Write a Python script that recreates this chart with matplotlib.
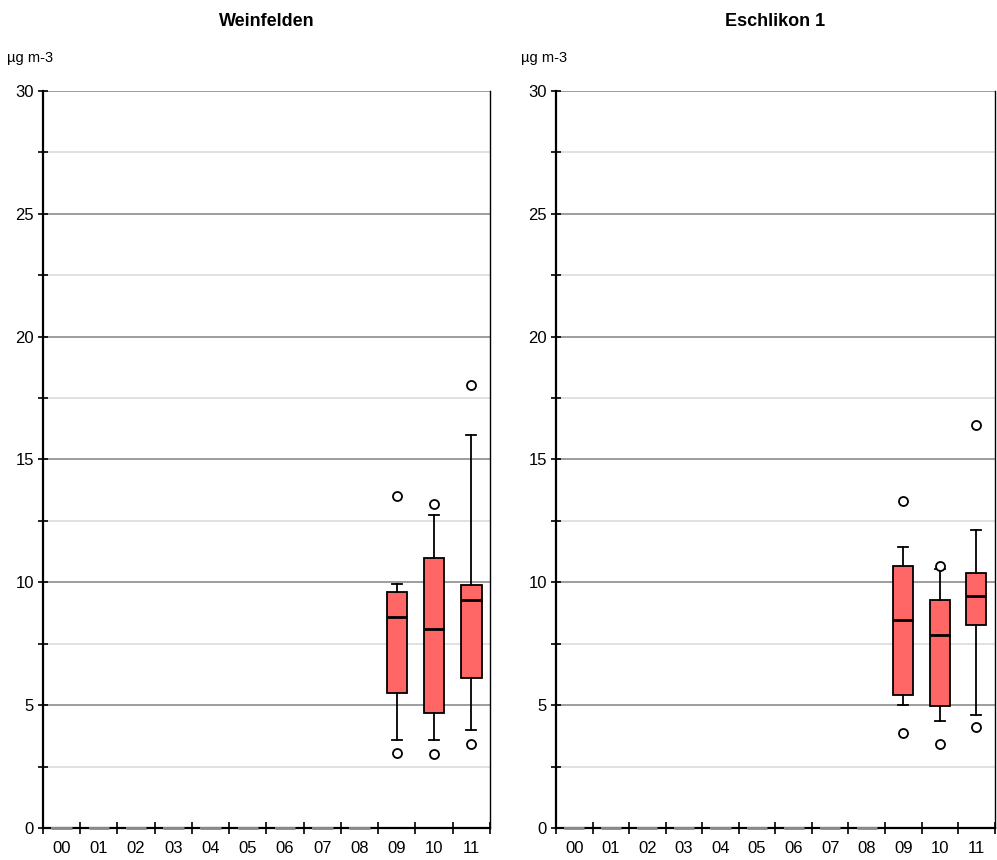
import matplotlib.pyplot as plt
from matplotlib.ticker import MultipleLocator

plt.rcParams['font.family'] = ['Liberation Sans', 'DejaVu Sans']

# Monthly categories (00 .. 11)
months = ['00', '01', '02', '03', '04', '05', '06', '07', '08', '09', '10', '11']

# Weinfelden box statistics (µg m-3)
wf_whislo = [0, 0, 0, 0, 0, 0, 0, 0, 0, 3.6, 3.6, 4.0]
wf_q1 = [0, 0, 0, 0, 0, 0, 0, 0, 0, 5.5, 4.7, 6.1]
wf_med = [0, 0, 0, 0, 0, 0, 0, 0, 0, 8.6, 8.1, 9.3]
wf_q3 = [0, 0, 0, 0, 0, 0, 0, 0, 0, 9.6, 11.0, 9.9]
wf_whishi = [0, 0, 0, 0, 0, 0, 0, 0, 0, 9.95, 12.75, 16.0]
wf_fliers = [[], [], [], [], [], [], [], [], [], [3.05, 13.5], [3.0, 13.2], [3.4, 18.05]]

# Eschlikon 1 box statistics (µg m-3)
es_whislo = [0, 0, 0, 0, 0, 0, 0, 0, 0, 5.0, 4.35, 4.6]
es_q1 = [0, 0, 0, 0, 0, 0, 0, 0, 0, 5.4, 4.95, 8.25]
es_med = [0, 0, 0, 0, 0, 0, 0, 0, 0, 8.45, 7.85, 9.45]
es_q3 = [0, 0, 0, 0, 0, 0, 0, 0, 0, 10.65, 9.3, 10.4]
es_whishi = [0, 0, 0, 0, 0, 0, 0, 0, 0, 11.45, 10.55, 12.15]
es_fliers = [[], [], [], [], [], [], [], [], [], [3.85, 13.3], [3.4, 10.65], [4.1, 16.4]]


def make_stats(lo, q1, med, q3, hi, fl):
    stats = []
    for i in range(len(months)):
        stats.append(dict(whislo=lo[i], q1=q1[i], med=med[i], q3=q3[i],
                          whishi=hi[i], fliers=fl[i], label=months[i]))
    return stats


def draw_panel(ax, title, stats):
    pos = list(range(1, len(months) + 1))
    parts = ax.bxp(stats, positions=pos, widths=0.55, patch_artist=True,
                   boxprops=dict(facecolor='#ff6666', edgecolor='black', linewidth=1.3),
                   medianprops=dict(color='black', linewidth=2),
                   whiskerprops=dict(color='black', linewidth=1.3),
                   capprops=dict(color='black', linewidth=1.3),
                   flierprops=dict(marker='o', markerfacecolor='white', markeredgecolor='black',
                                   markersize=6.5, markeredgewidth=1.3),
                   zorder=3)

    # empty months collapse to a flat grey dash on the baseline
    for i, st in enumerate(stats):
        if st['q3'] == 0:
            for art in [parts['boxes'][i], parts['medians'][i]]:
                art.set_clip_on(False)
                art.set_zorder(5)
            parts['boxes'][i].set_edgecolor('#8a8a8a')
            parts['medians'][i].set_color('#8a8a8a')
            for art in parts['caps'][2 * i:2 * i + 2] + parts['whiskers'][2 * i:2 * i + 2]:
                art.set_visible(False)

    ax.set_xlim(0.5, len(months) + 0.5)
    ax.set_ylim(0, 30)

    # gridlines: darker at 5, lighter at 2.5
    ax.yaxis.set_major_locator(MultipleLocator(5))
    ax.yaxis.set_minor_locator(MultipleLocator(2.5))
    ax.grid(axis='y', which='major', color='#8c8c8c', linewidth=1.2, zorder=0)
    ax.grid(axis='y', which='minor', color='#dcdcdc', linewidth=1.2, zorder=0)
    ax.set_axisbelow(True)

    # x ticks between the months, labels centred in each slot
    ax.set_xticks([p + 0.5 for p in range(0, len(months) + 1)], minor=True)
    ax.set_xticks(pos)
    ax.set_xticklabels(months)
    ax.tick_params(axis='x', which='major', length=0, labelsize=12, pad=9)
    ax.tick_params(axis='x', which='minor', direction='inout', length=8, width=1.2)
    ax.tick_params(axis='y', which='both', direction='inout', length=7, width=1.2,
                   labelsize=12, pad=3)

    for s in ['left', 'bottom']:
        ax.spines[s].set_linewidth(1.6)
    ax.spines['right'].set_linewidth(1.0)
    ax.spines['top'].set_visible(False)

    ax.set_title(title, fontsize=13, fontweight='bold', pad=47)
    ax.text(-0.08, 1.04, 'µg m-3', transform=ax.transAxes, fontsize=10.5, ha='left')


fig = plt.figure(figsize=(9.97, 8.6), dpi=100)
ax1 = fig.add_axes([0.0431, 0.0372, 0.4483, 0.857])
ax2 = fig.add_axes([0.5577, 0.0372, 0.4400, 0.857])

draw_panel(ax1, 'Weinfelden', make_stats(wf_whislo, wf_q1, wf_med, wf_q3, wf_whishi, wf_fliers))
draw_panel(ax2, 'Eschlikon 1', make_stats(es_whislo, es_q1, es_med, es_q3, es_whishi, es_fliers))

fig.savefig('out.png', dpi=100)
